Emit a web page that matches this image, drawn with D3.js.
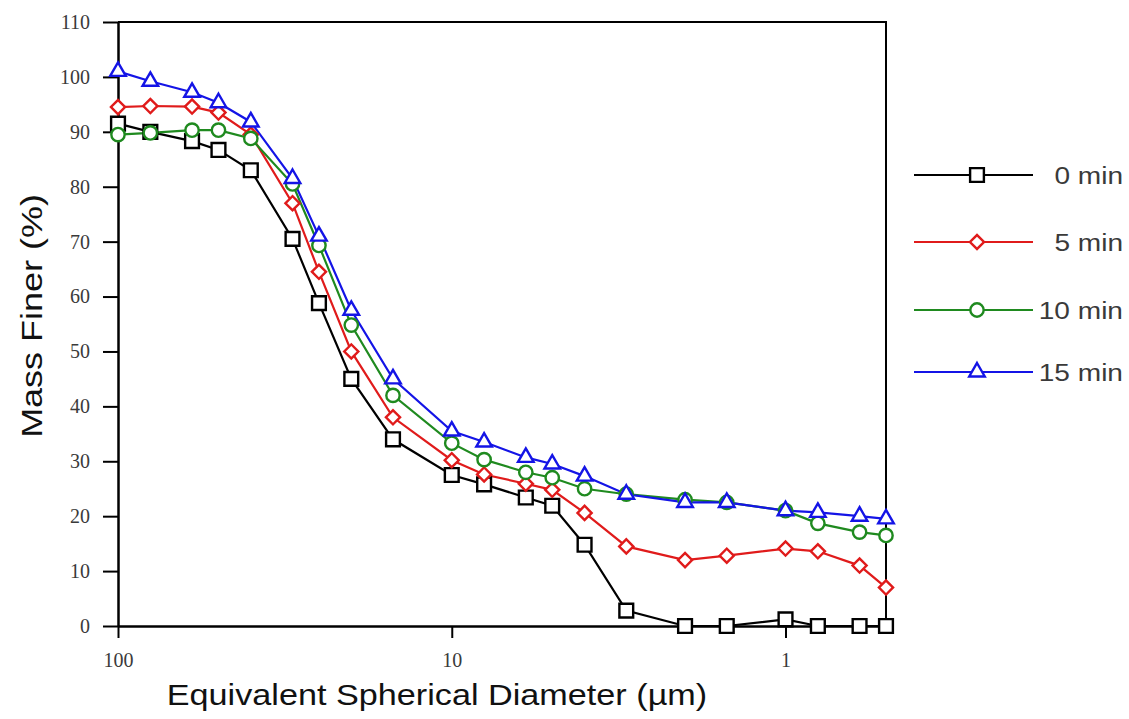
<!DOCTYPE html>
<html>
<head>
<meta charset="utf-8">
<script src="https://cdn.jsdelivr.net/npm/d3@7"></script>
<style>
  body { margin: 0; background: #fff; }
  svg { display: block; }
</style>
</head>
<body>
<div id="chart"></div>
<script>
// particle diameters (µm) and cumulative mass finer (%) per grinding time
const diameters = [100, 80, 60, 50, 40, 30, 25, 20, 15, 10, 8, 6, 5, 4, 3, 2, 1.5, 1, 0.8, 0.6, 0.5];
const min0  = [91.5, 90, 88.3, 86.7, 83, 70.5, 58.8, 45, 34, 27.5, 25.8, 23.4, 21.9, 14.8, 2.8, 0, 0, 1.2, 0, 0, 0];
const min5  = [94.5, 94.7, 94.6, 93.5, 89.5, 77, 64.5, 50, 38, 30.2, 27.6, 25.9, 24.8, 20.6, 14.5, 12, 12.8, 14.1, 13.6, 11, 7];
const min10 = [89.5, 89.8, 90.3, 90.3, 88.8, 80.5, 69.3, 54.8, 42, 33.3, 30.3, 28, 27, 25, 24, 23, 22.5, 21, 18.7, 17.1, 16.5];
const min15 = [101, 99.2, 97.2, 95.3, 91.8, 81.5, 71, 57.5, 45, 35.5, 33.5, 30.7, 29.5, 27.3, 24, 22.5, 22.5, 21, 20.7, 20, 19.5];
const seriesNames = ['0 min', '5 min', '10 min', '15 min'];
const xTicks = [100, 10, 1];
const yTicks = [0, 10, 20, 30, 40, 50, 60, 70, 80, 90, 100, 110];

const series = [
    { name: seriesNames[0], values: min0,  color: '#000000', symbol: d3.symbolSquare },
    { name: seriesNames[1], values: min5,  color: '#e01b1b', symbol: 'diamond' },
    { name: seriesNames[2], values: min10, color: '#1f8a1f', symbol: d3.symbolCircle },
    { name: seriesNames[3], values: min15, color: '#1414e6', symbol: d3.symbolTriangle }
];

const width = 1129, height = 719;
const m = { top: 22, left: 118, right: 243, bottom: 93 };
const plotW = width - m.left - m.right;   // 768
const plotH = height - m.top - m.bottom;  // 604

const sansFont = '"Liberation Sans", Arial, sans-serif';
const serifFont = '"Liberation Serif", "DejaVu Serif", serif';

const svg = d3.select('#chart').append('svg')
    .attr('width', width)
    .attr('height', height);

const x = d3.scaleLog().domain([100, 0.5]).range([0, plotW]);
const y = d3.scaleLinear().domain([0, 110]).range([plotH, 0]);

const plot = svg.append('g')
    .attr('transform', `translate(${m.left},${m.top})`);

// the original text is a bit wider than the installed fonts
function stretch(sel, factor) {
    sel.each(function() {
        const len = this.getComputedTextLength();
        d3.select(this)
            .attr('textLength', len * factor)
            .attr('lengthAdjust', 'spacingAndGlyphs');
    });
}

// frame (top and right)
plot.append('path')
    .attr('d', `M0,0H${plotW}V${plotH}`)
    .attr('fill', 'none')
    .attr('stroke', '#000')
    .attr('stroke-width', 2);

// axes
const xAxis = d3.axisBottom(x)
    .tickValues(xTicks)
    .tickFormat(d3.format('d'))
    .tickSize(12)
    .tickSizeOuter(0)
    .tickPadding(15);
const gx = plot.append('g')
    .attr('transform', `translate(0,${plotH})`)
    .call(xAxis);

const yAxis = d3.axisLeft(y)
    .tickValues(yTicks)
    .tickSize(15)
    .tickSizeOuter(0)
    .tickPadding(13);
const gy = plot.append('g').call(yAxis);

[gx, gy].forEach(g => {
    g.attr('font-size', null).attr('font-family', null);
    g.select('.domain').attr('stroke-width', 2.5);
    g.selectAll('.tick line').attr('stroke-width', 2);
    g.selectAll('.tick text')
        .style('font-family', serifFont)
        .style('font-size', '20px')
        .attr('fill', '#3a3a3a');
});

// lines and markers
const line = d3.line()
    .x((d, i) => x(diameters[i]))
    .y(d => y(d));

function symbolPath(s) {
    if (s === 'diamond') return d3.symbol().type(d3.symbolSquare).size(100)();
    if (s === d3.symbolSquare) return d3.symbol().type(s).size(190)();
    if (s === d3.symbolCircle) return d3.symbol().type(s).size(140)();
    return d3.symbol().type(s).size(105)();
}
const symbolRotate = s => s === 'diamond' ? ' rotate(45)' : '';

series.forEach(s => {
    plot.append('path')
        .datum(s.values)
        .attr('d', line)
        .attr('fill', 'none')
        .attr('stroke', s.color)
        .attr('stroke-width', 2.2);
});

series.forEach(s => {
    plot.append('g')
        .selectAll('path')
        .data(s.values)
        .join('path')
        .attr('transform', (d, i) => `translate(${x(diameters[i])},${y(d)})${symbolRotate(s.symbol)}`)
        .attr('d', symbolPath(s.symbol))
        .attr('fill', '#fff')
        .attr('stroke', s.color)
        .attr('stroke-width', 2.4);
});

// axis titles
svg.append('text')
    .attr('x', 437)
    .attr('y', 705)
    .attr('text-anchor', 'middle')
    .attr('font-family', sansFont)
    .attr('font-size', 30)
    .attr('fill', '#111')
    .text('Equivalent Spherical Diameter (µm)')
    .call(stretch, 1.14);

svg.append('text')
    .attr('transform', 'translate(42,316) rotate(-90)')
    .attr('text-anchor', 'middle')
    .attr('font-family', sansFont)
    .attr('font-size', 29)
    .attr('fill', '#111')
    .text('Mass Finer (%)')
    .call(stretch, 1.24);

// legend
const legendY = [175, 242, 310, 372];
const legend = svg.append('g');
series.forEach((s, i) => {
    const g = legend.append('g').attr('transform', `translate(0,${legendY[i]})`);
    g.append('line')
        .attr('x1', 914).attr('x2', 1033)
        .attr('stroke', s.color)
        .attr('stroke-width', 2.2);
    g.append('path')
        .attr('transform', `translate(977,0)${symbolRotate(s.symbol)}`)
        .attr('d', symbolPath(s.symbol))
        .attr('fill', '#fff')
        .attr('stroke', s.color)
        .attr('stroke-width', 2.4);
    g.append('text')
        .attr('x', 1123)
        .attr('y', 9)
        .attr('text-anchor', 'end')
        .attr('font-family', sansFont)
        .attr('font-size', 23)
        .attr('fill', '#3a3a3a')
        .text(s.name)
        .call(stretch, 1.22);
});
</script>
</body>
</html>
